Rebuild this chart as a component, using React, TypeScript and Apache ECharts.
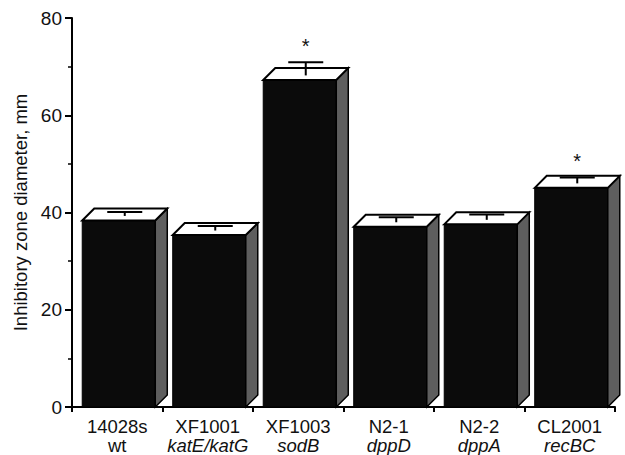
import React, { useEffect, useRef } from "react";
import * as echarts from "echarts";

const strains = ["14028s", "XF1001", "XF1003", "N2-1", "N2-2", "CL2001"];
const genotypes = ["wt", "katE/katG", "sodB", "dppD", "dppA", "recBC"];
const genotypeItalic = [false, true, true, true, true, true];
const means = [39.6, 36.6, 68.5, 38.3, 38.8, 46.3];
const errors = [0.5, 0.6, 2.4, 0.7, 0.8, 0.9];
const significant = [false, false, true, false, false, true];
const yTicks = [0, 20, 40, 60, 80];

const FONT = "Liberation Sans, Arial, Helvetica, sans-serif";

export default function App() {
  const ref = useRef<HTMLDivElement>(null);
  useEffect(() => {
    if (!ref.current) return;
    const chart = echarts.init(ref.current, null, { renderer: "svg" });
    const data = means.map((m, i) => [i, m, errors[i], significant[i] ? 1 : 0]);
    chart.setOption({
      animation: false,
      backgroundColor: "#fff",
      grid: { left: 72, right: 10, top: 18, bottom: 48, containLabel: false },
      xAxis: {
        type: "category",
        data: strains,
        boundaryGap: true,
        axisLine: { lineStyle: { color: "#000", width: 2 } },
        axisTick: { show: true, length: 5, lineStyle: { color: "#000", width: 2 } },
        axisLabel: {
          margin: 10,
          interval: 0,
          formatter: (val: string, idx: number) =>
            `{a|${val}}\n{${genotypeItalic[idx] ? "b" : "a"}|${genotypes[idx]}}`,
          rich: {
            a: { fontFamily: FONT, fontSize: 18.5, color: "#111", lineHeight: 19 },
            b: { fontFamily: FONT, fontSize: 18.5, color: "#111", lineHeight: 19, fontStyle: "italic" },
          },
        },
        splitLine: { show: false },
      },
      yAxis: {
        type: "value",
        min: yTicks[0],
        max: yTicks[yTicks.length - 1],
        interval: 20,
        name: "Inhibitory zone diameter, mm",
        nameLocation: "middle",
        nameGap: 41,
        nameTextStyle: { fontFamily: FONT, fontSize: 18.5, color: "#111" },
        axisLine: { show: true, lineStyle: { color: "#000", width: 2 } },
        axisTick: { show: true, length: 7, lineStyle: { color: "#000", width: 2 } },
        minorTick: { show: true, splitNumber: 2, length: 4, lineStyle: { color: "#000", width: 1.5 } },
        axisLabel: { margin: 10, fontFamily: FONT, fontSize: 19, color: "#111" },
        splitLine: { show: false },
      },
      series: [
        {
          type: "custom",
          clip: false,
          encode: { x: 0, y: 1 },
          data,
          renderItem: (params: any, api: any) => {
            const i = api.value(0);
            const v = api.value(1);
            const e = api.value(2);
            const sig = api.value(3);
            const [cx, cy] = api.coord([i, v]);
            const y0 = api.coord([i, 0])[1];
            const band = api.size([1, 0])[0];
            const bw = band * 0.807;
            const d = 12;
            const xl = cx - bw / 2 + 1.5;
            const xr = xl + bw;
            const yF = cy + d / 2;
            const yB = cy - d / 2;
            const yE = api.coord([i, v + e])[1];
            const ex = (xl + xr) / 2 + d / 2;
            const children: any[] = [
              {
                type: "rect",
                shape: { x: xl, y: yF, width: bw, height: y0 - yF },
                style: { fill: "#0b0b0b", stroke: "#000", lineWidth: 1 },
              },
              {
                type: "polygon",
                shape: { points: [[xr, yF], [xr + d, yB], [xr + d, y0 - d], [xr, y0]] },
                style: { fill: "#5e5e5e", stroke: "#000", lineWidth: 1.5 },
              },
              {
                type: "polygon",
                shape: { points: [[xl, yF], [xl + d, yB], [xr + d, yB], [xr, yF]] },
                style: { fill: "#fff", stroke: "#000", lineWidth: 2 },
              },
              {
                type: "line",
                shape: { x1: ex, y1: cy + 1.5, x2: ex, y2: yE },
                style: { stroke: "#000", lineWidth: 2 },
              },
              {
                type: "line",
                shape: { x1: ex - 17.5, y1: yE, x2: ex + 17.5, y2: yE },
                style: { stroke: "#000", lineWidth: 2 },
              },
            ];
            if (sig) {
              children.push({
                type: "text",
                x: ex,
                y: yE - 16,
                style: {
                  text: "*",
                  fill: "#111",
                  font: `20px ${FONT}`,
                  align: "center",
                  verticalAlign: "middle",
                },
              });
            }
            return { type: "group", children };
          },
        },
      ],
    });
    return () => chart.dispose();
  }, []);
  return (
    <div
      ref={ref}
      style={{ position: "fixed", left: 0, top: 0, width: 625, height: 455, background: "#fff" }}
    />
  );
}
